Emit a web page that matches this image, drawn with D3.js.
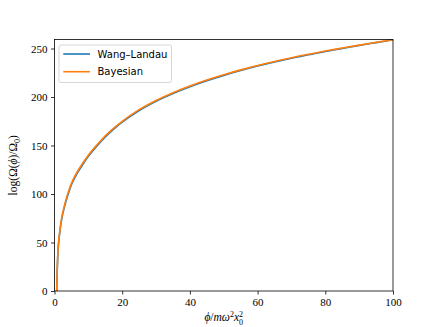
<!DOCTYPE html>
<html>
<head>
<meta charset="utf-8">
<script src="https://cdn.jsdelivr.net/npm/d3@7"></script>
<style>
body { margin: 0; background: #fff; }
</style>
</head>
<body>
<div id="div1"></div>
<script>
// phi values (x)
var phiValues = [0.65, 0.8, 1, 1.5, 2, 3, 4, 5, 6, 8, 10, 12.5, 15, 17.5, 20, 25, 30, 35, 40, 45, 50, 55, 60, 65, 70, 75, 80, 85, 90, 95, 100];
// log density of states, Wang-Landau run
var wangLandau = [0, 20.5, 38.5, 58.5, 71.5, 87.5, 99.5, 109.5, 117, 128.5, 138.8, 149.3, 158.8, 166.9, 174, 186, 195.6, 203.6, 210.6, 216.8, 222.3, 227.3, 231.9, 236.1, 240, 243.5, 247, 250.1, 253.2, 256.1, 259];
// log density of states, Bayesian estimate
var bayesian = [0, 22, 40, 60, 73, 89, 101, 111, 118.5, 130, 140, 150.5, 160, 168, 175, 187, 196.5, 204.5, 211.4, 217.5, 223, 228, 232.5, 236.6, 240.5, 244, 247.4, 250.5, 253.5, 256.3, 259];
var seriesNames = ["Wang\u2013Landau", "Bayesian"];
var seriesColors = ["#1f77b4", "#ff7f0e"];
var xTicks = [0, 20, 40, 60, 80, 100];
var yTicks = [0, 50, 100, 150, 200, 250];

var width = 437, height = 327;
var plotLeft = 54.5, plotRight = 393, plotTop = 39.5, plotBottom = 291;

var svg = d3.select("#div1").append("svg")
    .attr("width", width).attr("height", height);

var x = d3.scaleLinear().domain([0, 100]).range([plotLeft, plotRight]);
var y = d3.scaleLinear().domain([0, 259.3]).range([plotBottom, plotTop]);

var serif = "'Liberation Serif', 'DejaVu Serif', serif";

// lines
var series = [wangLandau, bayesian];
var line = d3.line()
    .x(function (d) { return x(d[0]); })
    .y(function (d) { return y(d[1]); })
    .curve(d3.curveMonotoneX);

for (var s = 0; s < series.length; s++) {
    var pts = phiValues.map(function (p, i) { return [p, series[s][i]]; });
    svg.append("path")
        .attr("d", line(pts))
        .attr("fill", "none")
        .attr("stroke", seriesColors[s])
        .attr("stroke-width", 1.6);
}

// axes
var xAxis = svg.append("g").attr("transform", "translate(0," + plotBottom + ")")
    .call(d3.axisBottom(x).tickValues(xTicks).tickSize(3.5).tickPadding(3.5));
var yAxis = svg.append("g").attr("transform", "translate(" + plotLeft + ",0)")
    .call(d3.axisLeft(y).tickValues(yTicks).tickSize(3.5).tickPadding(3.5));

[xAxis, yAxis].forEach(function (a) {
    a.select(".domain").remove();
    a.selectAll("line").attr("stroke", "#000").attr("stroke-width", 0.8);
    a.selectAll("text").attr("font-family", serif).attr("font-size", 11).attr("fill", "#000");
});

// frame
svg.append("rect")
    .attr("x", plotLeft).attr("y", plotTop)
    .attr("width", plotRight - plotLeft).attr("height", plotBottom - plotTop)
    .attr("fill", "none").attr("stroke", "#000").attr("stroke-width", 0.8);

// x label
var xl = svg.append("text")
    .attr("x", (plotLeft + plotRight) / 2).attr("y", 321)
    .attr("text-anchor", "middle")
    .attr("font-family", serif).attr("font-size", 11.5);
xl.append("tspan").attr("font-style", "italic").text("\u03d5");
xl.append("tspan").text("/");
xl.append("tspan").attr("font-style", "italic").text("m\u03c9");
xl.append("tspan").attr("font-size", 8).attr("dy", -4).text("2");
xl.append("tspan").attr("font-style", "italic").attr("dy", 4).text("x");
xl.append("tspan").attr("font-size", 8).attr("dy", -4.5).text("2");
xl.append("tspan").attr("font-size", 8).attr("dx", -4).attr("dy", 8).text("0");

// y label
var yl = svg.append("text")
    .attr("transform", "translate(17," + ((plotTop + plotBottom) / 2) + ") rotate(-90)")
    .attr("text-anchor", "middle")
    .attr("font-family", serif).attr("font-size", 11.5);
yl.append("tspan").text("log(\u03a9(");
yl.append("tspan").attr("font-style", "italic").text("\u03d5");
yl.append("tspan").text(")/\u03a9");
yl.append("tspan").attr("font-size", 8).attr("dy", 3).text("0");
yl.append("tspan").attr("dy", -3).text(")");

// legend
var lg = svg.append("g");
lg.append("rect")
    .attr("x", 59).attr("y", 45).attr("width", 112.5).attr("height", 37.5)
    .attr("rx", 2).attr("fill", "#fff").attr("fill-opacity", 0.8)
    .attr("stroke", "#ccc").attr("stroke-width", 0.8);
for (var k = 0; k < seriesNames.length; k++) {
    var ly = 54 + k * 17.7;
    lg.append("line")
        .attr("x1", 63.3).attr("x2", 90).attr("y1", ly).attr("y2", ly)
        .attr("stroke", seriesColors[k]).attr("stroke-width", 1.6);
    lg.append("text")
        .attr("x", 97.5).attr("y", ly + 3.6)
        .attr("font-family", "'DejaVu Sans', sans-serif").attr("font-size", 10)
        .attr("fill", "#000")
        .text(seriesNames[k]);
}
</script>
</body>
</html>
